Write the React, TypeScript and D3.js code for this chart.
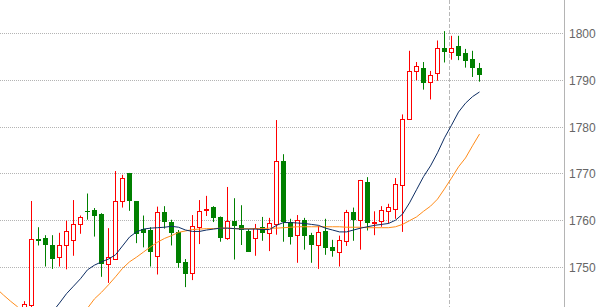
import React from "react";
import * as d3 from "d3";

// Candle data (index 0..65)
const opens = [
  1741.5, 1741.9, 1755.9, 1756.3, 1754.6, 1752.1, 1754.8, 1755.7, 1759.1, 1762.0,
  1762.2, 1761.3, 1750.7, 1751.8, 1764.1, 1770.1, 1764.1, 1758.2, 1757.9, 1752.3,
  1761.7, 1759.6, 1757.4, 1751.1, 1748.7, 1758.6, 1762.1, 1762.8, 1760.7, 1756.3,
  1759.8, 1759.0, 1757.7, 1756.3, 1758.5, 1757.2, 1759.1, 1772.6, 1759.6, 1756.9,
  1760.0, 1756.9, 1754.6, 1757.7, 1754.3, 1753.3, 1755.6, 1761.7, 1760.0, 1768.2,
  1759.3, 1759.8, 1761.9, 1762.5, 1767.5, 1781.6, 1791.8, 1792.5, 1789.5, 1791.4,
  1796.9, 1795.9, 1797.2, 1795.7, 1794.4, 1792.5,
];
const highs = [
  1742.7, 1764.1, 1758.5, 1756.8, 1756.8, 1757.3, 1759.9, 1764.3, 1761.0, 1765.7,
  1762.6, 1761.5, 1758.3, 1770.5, 1769.7, 1770.1, 1764.1, 1761.0, 1758.5, 1762.9,
  1763.0, 1760.1, 1757.9, 1751.7, 1761.1, 1764.3, 1765.2, 1763.0, 1760.8, 1767.1,
  1764.7, 1763.2, 1758.1, 1759.2, 1760.7, 1760.5, 1781.4, 1774.1, 1760.3, 1761.1,
  1760.5, 1757.3, 1758.8, 1760.3, 1755.8, 1756.7, 1762.2, 1762.7, 1768.6, 1769.2,
  1761.9, 1763.0, 1763.5, 1769.0, 1782.6, 1796.2, 1793.8, 1793.8, 1791.9, 1798.4,
  1800.4, 1799.4, 1799.4, 1796.6, 1796.2, 1793.6,
];
const lows = [
  1740.0, 1741.0, 1754.6, 1750.1, 1749.6, 1750.1, 1749.5, 1752.4, 1757.1, 1760.1,
  1756.5, 1747.9, 1746.6, 1751.8, 1762.7, 1762.0, 1755.1, 1754.2, 1750.1, 1748.4,
  1758.2, 1754.6, 1749.8, 1745.7, 1747.2, 1754.9, 1760.9, 1759.6, 1755.4, 1755.8,
  1751.6, 1754.7, 1753.3, 1752.4, 1755.6, 1753.4, 1756.9, 1755.4, 1754.8, 1750.9,
  1753.7, 1750.9, 1749.6, 1752.6, 1752.2, 1750.1, 1754.5, 1755.6, 1753.7, 1757.8,
  1756.8, 1758.6, 1759.3, 1760.3, 1757.5, 1781.6, 1789.9, 1787.9, 1785.8, 1789.8,
  1793.7, 1794.3, 1794.2, 1792.6, 1790.6, 1789.6,
];
const closes = [
  1742.0, 1755.9, 1755.5, 1754.6, 1751.8, 1754.8, 1757.6, 1759.1, 1760.6, 1761.8,
  1761.0, 1750.7, 1752.2, 1764.1, 1769.0, 1764.1, 1757.0, 1757.3, 1753.1, 1761.7,
  1759.7, 1757.3, 1750.9, 1748.4, 1758.7, 1761.9, 1762.5, 1760.5, 1756.3, 1759.8,
  1758.8, 1757.8, 1753.3, 1758.4, 1757.3, 1759.3, 1772.6, 1759.6, 1756.5, 1760.0,
  1756.7, 1754.6, 1757.5, 1754.1, 1753.5, 1755.7, 1761.7, 1760.1, 1768.5, 1759.3,
  1759.6, 1762.1, 1762.8, 1767.7, 1781.6, 1791.8, 1792.9, 1789.4, 1791.0, 1796.9,
  1796.0, 1796.9, 1795.1, 1794.1, 1792.6, 1791.1,
];

// Moving averages, indexed from maStart
const maStart = -4;
const maBlue: (number | null)[] = [
  null, null, null, null, null, null, null,
  1738.8, 1740.4, 1742.3, 1744.3, 1745.9, 1747.5, 1749.4, 1750.4, 1751.1, 1751.7,
  1752.6, 1754.5, 1756.4, 1757.5, 1758.1, 1758.3, 1758.4, 1758.5, 1758.7, 1758.5,
  1757.9, 1757.6, 1757.6, 1757.9, 1758.1, 1758.3, 1758.3, 1758.2, 1758.1, 1758.1,
  1758.1, 1758.0, 1758.0, 1758.9, 1759.5, 1759.5, 1759.4, 1759.3, 1759.1, 1758.9,
  1758.3, 1757.9, 1757.5, 1757.5, 1757.9, 1758.3, 1758.6, 1758.9, 1759.1, 1759.3,
  1760.0, 1761.3, 1763.7, 1766.5, 1769.3, 1771.6, 1774.4, 1777.6, 1780.3, 1783.1,
  1785.0, 1786.4, 1787.4,
];
const maOrange: (number | null)[] = [
  1745.4, 1744.0, 1742.7, 1741.5,
  1740.2, 1739.1, 1738.2, 1737.4, 1736.9, 1736.9, 1737.4, 1738.5, 1739.7, 1741.2,
  1743.2, 1744.6, 1746.2, 1747.9, 1749.7, 1751.1, 1752.1, 1753.2, 1754.3, 1755.3,
  1756.1, 1756.7, 1757.4, 1757.7, 1758.0, 1758.1, 1758.2, 1758.2, 1758.3, 1758.3,
  1758.2, 1758.2, 1758.2, 1758.2, 1758.2, 1758.3, 1758.3, 1758.4, 1758.5, 1758.6,
  1758.6, 1758.6, 1758.6, 1758.6, 1758.6, 1758.6, 1758.5, 1758.5, 1758.5, 1758.4,
  1758.4, 1758.4, 1758.4, 1758.6, 1759.1, 1759.9, 1760.7, 1761.9, 1763.0, 1764.5,
  1766.7, 1769.0, 1771.4, 1773.3, 1775.9, 1778.4,
];

const yTicks = [1750, 1760, 1770, 1780, 1790, 1800];
const markerIndex = 60.7;

const W = 603;
const H = 307;

export default function App() {
  const x = d3.scaleLinear().domain([0, 65]).range([24.5, 479.5]);
  const y = d3.scaleLinear().domain([1750, 1800]).range([267, 33]);
  const axisX = 564.5;

  const mkLine = (arr: (number | null)[]) =>
    d3
      .line<number | null>()
      .defined((d) => d != null)
      .x((_, i) => x(i + maStart))
      .y((d) => y(d as number))(arr) || "";

  return (
    <svg
      width={W}
      height={H}
      style={{ position: "absolute", left: 0, top: 0, background: "#fff" }}
      fontFamily="'Liberation Sans', Arial, sans-serif"
    >
      <defs>
        <clipPath id="plot">
          <rect x={0} y={0} width={axisX} height={H} />
        </clipPath>
      </defs>
      {yTicks.map((t) => {
        const yy = Math.round(y(t)) + 0.5;
        return (
          <g key={t}>
            <line x1={0} x2={axisX} y1={yy} y2={yy} stroke="#b4b4b4" strokeDasharray="1,1" />
            <text x={569} y={yy} dy="0.35em" fontSize={12} fill="#666">
              {t}
            </text>
          </g>
        );
      })}
      <line
        x1={Math.round(x(markerIndex)) + 0.5}
        x2={Math.round(x(markerIndex)) + 0.5}
        y1={0}
        y2={H}
        stroke="#b8b8b8"
        strokeDasharray="4,2"
      />
      <line x1={axisX} x2={axisX} y1={0} y2={H} stroke="#b4b4b4" />
      <g clipPath="url(#plot)">
        {opens.map((o, i) => {
          const c = closes[i];
          const up = c >= o;
          const cx = x(i);
          const color = up ? "#ff0000" : "#008000";
          const top = Math.round(y(Math.max(o, c)));
          const bot = Math.round(y(Math.min(o, c)));
          return (
            <g key={i}>
              <line x1={cx} x2={cx} y1={y(highs[i])} y2={y(lows[i])} stroke={color} strokeWidth={1} />
              {up ? (
                <rect
                  x={cx - 2}
                  y={top + 0.5}
                  width={4}
                  height={Math.max(bot - top, 1)}
                  fill="#fff"
                  stroke={color}
                  strokeWidth={1}
                />
              ) : (
                <rect
                  x={cx - 2.5}
                  y={top}
                  width={5}
                  height={Math.max(bot - top, 1)}
                  fill={color}
                />
              )}
            </g>
          );
        })}
        <path d={mkLine(maOrange)} fill="none" stroke="#ff8c1a" strokeWidth={1} />
        <path d={mkLine(maBlue)} fill="none" stroke="#0d2d63" strokeWidth={1} />
      </g>
    </svg>
  );
}
